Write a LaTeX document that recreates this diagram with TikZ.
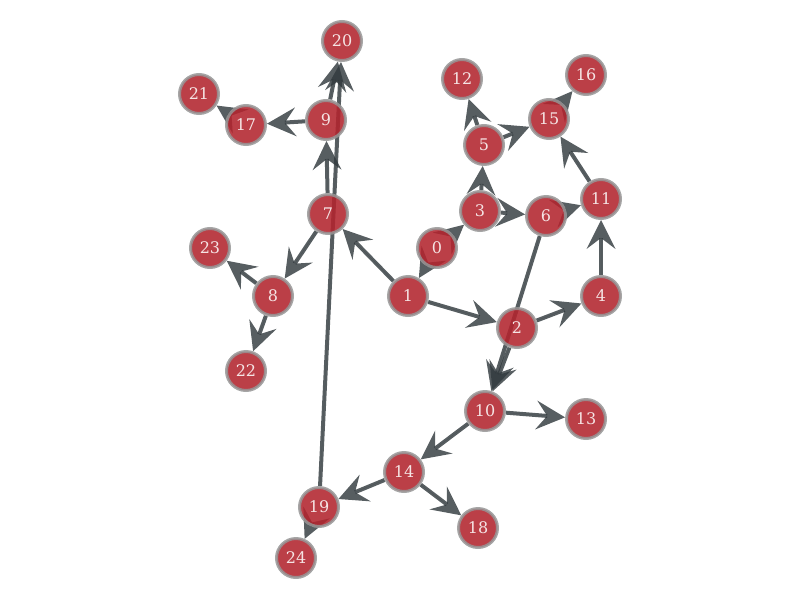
\documentclass[tikz,border=0pt]{standalone}
\usepackage{fontspec}
\setmainfont{DejaVu Serif}
\usetikzlibrary{arrows.meta}
\pgfdeclarelayer{bg}
\pgfsetlayers{bg,main}
\definecolor{nodefill}{RGB}{178,36,46}
\definecolor{nodeborder}{RGB}{150,150,150}
\definecolor{edgecol}{RGB}{50,58,62}
\definecolor{txtcol}{RGB}{245,228,228}
\tikzset{
  vtx/.style={circle, fill=nodefill, fill opacity=0.88, draw=nodeborder, draw opacity=0.85,
    line width=3pt, minimum size=39pt, inner sep=0pt, text=txtcol, text opacity=1,
    font=\fontsize{16}{16}\selectfont},
  edge/.style={draw=edgecol, draw opacity=0.82, fill=edgecol, fill opacity=0.82, line width=4pt,
    -{Stealth[length=29pt, width=29pt, inset=11pt, line width=0pt]}},
}
\begin{document}
\begin{tikzpicture}[x=1pt,y=-1pt]
\useasboundingbox (0,0) rectangle (800,600);
\node[vtx] (n0) at (437,248) {0};
\node[vtx] (n1) at (408,296) {1};
\node[vtx] (n2) at (517,328) {2};
\node[vtx] (n3) at (480,211) {3};
\node[vtx] (n4) at (601,296) {4};
\node[vtx] (n5) at (484,145) {5};
\node[vtx] (n6) at (546,216) {6};
\node[vtx] (n7) at (328,214) {7};
\node[vtx] (n8) at (273,296) {8};
\node[vtx] (n9) at (326,120) {9};
\node[vtx] (n10) at (485,411) {10};
\node[vtx] (n11) at (601,199) {11};
\node[vtx] (n12) at (462,79) {12};
\node[vtx] (n13) at (586,419) {13};
\node[vtx] (n14) at (404,472) {14};
\node[vtx] (n15) at (549,119) {15};
\node[vtx] (n16) at (586,75) {16};
\node[vtx] (n17) at (246,125) {17};
\node[vtx] (n18) at (478,528) {18};
\node[vtx] (n19) at (319,507) {19};
\node[vtx] (n20) at (342,41) {20};
\node[vtx] (n21) at (199,94) {21};
\node[vtx] (n22) at (246,371) {22};
\node[vtx] (n23) at (210,248) {23};
\node[vtx] (n24) at (296,558) {24};
\begin{pgfonlayer}{bg}
\foreach \a/\b in {1/7, 1/2, 0/1, 0/3, 3/5, 3/6, 5/12, 5/15, 15/16, 6/11, 11/15, 4/11, 2/4,
  2/10, 6/10, 10/13, 10/14, 14/19, 14/18, 19/24, 19/20, 7/9, 9/20, 9/17, 17/21, 7/8, 8/23, 8/22}
  \draw[edge] (n\a) -- (n\b);
\end{pgfonlayer}
\end{tikzpicture}
\end{document}
